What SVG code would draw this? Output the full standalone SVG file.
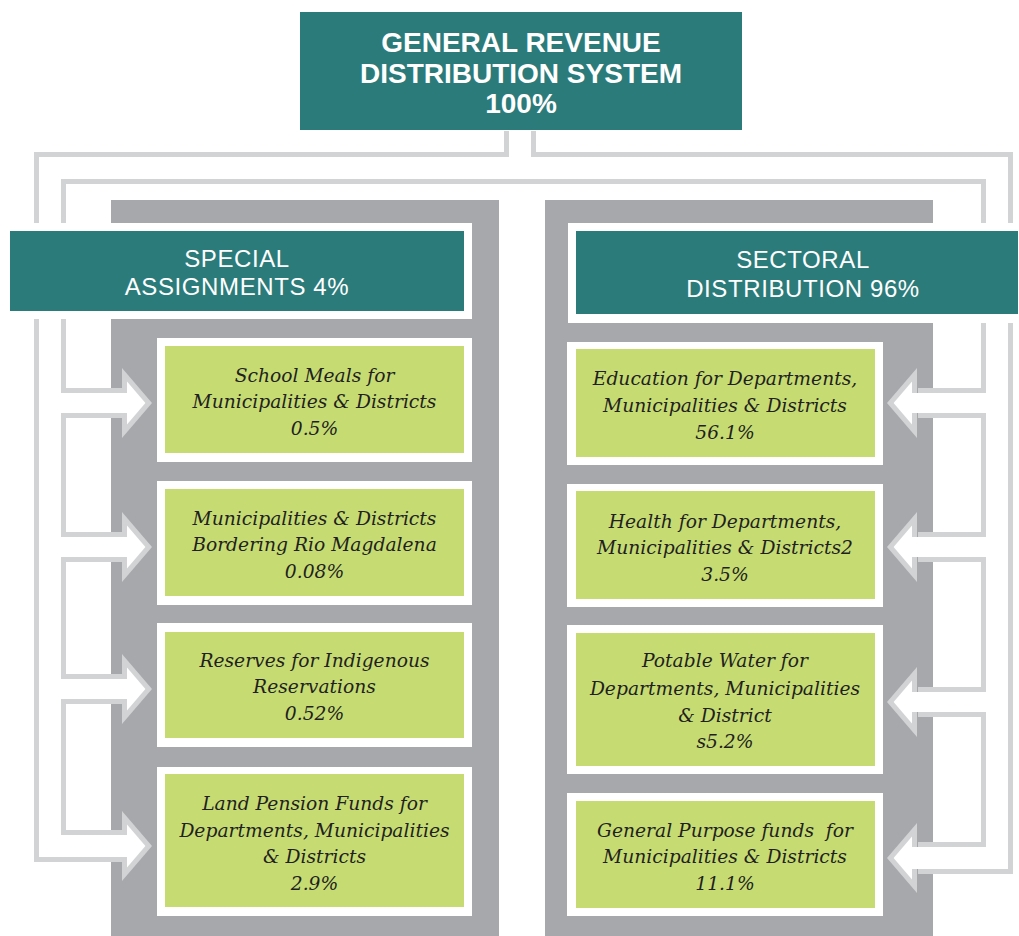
<svg xmlns="http://www.w3.org/2000/svg" xmlns:xlink="http://www.w3.org/1999/xlink" width="1019" height="936" viewBox="0 0 1019 936">
<style>
.panel{fill:#a7a8ac}
.teal{fill:#2b7b7a}
.wbox{fill:#ffffff}
.green{fill:#c6dc73}
.pg{fill:none;stroke:#d2d3d5;stroke-width:32;stroke-linejoin:miter}
.pw{fill:none;stroke:#ffffff;stroke-width:22;stroke-linejoin:miter}
.sg{fill:none;stroke:#d2d3d5;stroke-width:30}
.sw{fill:none;stroke:#ffffff;stroke-width:20}
.hg{fill:#d2d3d5}
.hw{fill:#ffffff}
.t1{font-family:"Liberation Sans",Arial,sans-serif;font-weight:bold;font-size:28px;fill:#ffffff;text-anchor:middle}
.t2{font-family:"Liberation Sans",Arial,sans-serif;font-size:24px;letter-spacing:0.6px;fill:#ffffff;text-anchor:middle}
.t3{font-family:"DejaVu Serif",serif;font-style:italic;font-size:18.7px;fill:#231f20;text-anchor:middle}
</style>
<defs>
<polygon id="lhg" points="122,-35 152,0 122,35"/>
<polygon id="lhw" points="127,-21.5 145.4,0 127,21.5"/>
<polygon id="rhg" points="917,-35 887,0 917,35"/>
<polygon id="rhw" points="912,-21.5 893.6,0 912,21.5"/>
</defs>
<rect x="0" y="0" width="1019" height="936" fill="#ffffff"/>
<g id="panels">
<rect class="panel" x="111" y="200" width="388" height="736"/>
<rect class="panel" x="545" y="200" width="388" height="736"/>
</g>
<g id="connectors">
<path class="pg" d="M124,846 H50 V168 H997 V858 H918"/>
<path class="pg" d="M520,131 V168"/>
<path class="sg" d="M50,403 H124 M50,547 H124 M50,689 H124 M997,403 H918 M997,547 H918 M997,702 H918"/>
<use xlink:href="#lhg" class="hg" transform="translate(0,403)"/>
<use xlink:href="#lhg" class="hg" transform="translate(0,547)"/>
<use xlink:href="#lhg" class="hg" transform="translate(0,689)"/>
<use xlink:href="#lhg" class="hg" transform="translate(0,846)"/>
<use xlink:href="#rhg" class="hg" transform="translate(0,403)"/>
<use xlink:href="#rhg" class="hg" transform="translate(0,547)"/>
<use xlink:href="#rhg" class="hg" transform="translate(0,702)"/>
<use xlink:href="#rhg" class="hg" transform="translate(0,858)"/>
<path class="pw" d="M130,846 H50 V168 H997 V858 H912"/>
<path class="pw" d="M520,131 V170"/>
<path class="sw" d="M50,403 H130 M50,547 H130 M50,689 H130 M997,403 H912 M997,547 H912 M997,702 H912"/>
<use xlink:href="#lhw" class="hw" transform="translate(0,403)"/>
<use xlink:href="#lhw" class="hw" transform="translate(0,547)"/>
<use xlink:href="#lhw" class="hw" transform="translate(0,689)"/>
<use xlink:href="#lhw" class="hw" transform="translate(0,846)"/>
<use xlink:href="#rhw" class="hw" transform="translate(0,403)"/>
<use xlink:href="#rhw" class="hw" transform="translate(0,547)"/>
<use xlink:href="#rhw" class="hw" transform="translate(0,702)"/>
<use xlink:href="#rhw" class="hw" transform="translate(0,858)"/>
</g>
<g id="general">
<rect class="teal" x="300" y="12" width="442" height="118"/>
<text class="t1" x="521" y="52">GENERAL REVENUE</text>
<text class="t1" x="521" y="83">DISTRIBUTION SYSTEM</text>
<text class="t1" x="521" y="113">100%</text>
</g>
<g id="special">
<rect class="wbox" x="2" y="223" width="470" height="96"/>
<rect class="teal" x="10" y="231" width="454" height="80"/>
<text class="t2" x="237" y="267">SPECIAL</text>
<text class="t2" x="237" y="295">ASSIGNMENTS 4%</text>
</g>
<g id="sectoral">
<rect class="wbox" x="568" y="223" width="451" height="100"/>
<rect class="teal" x="576" y="231" width="442" height="83"/>
<text class="t2" x="803" y="268">SECTORAL</text>
<text class="t2" x="803" y="297">DISTRIBUTION 96%</text>
</g>
<g id="school-meals">
<rect class="wbox" x="157" y="338" width="315" height="124"/>
<rect class="green" x="165" y="346" width="299" height="107"/>
<text class="t3" x="314.5" y="382">School Meals for</text>
<text class="t3" x="314.5" y="408">Municipalities &amp; Districts</text>
<text class="t3" x="314.5" y="435">0.5%</text>
</g>
<g id="rio-magdalena">
<rect class="wbox" x="157" y="481" width="315" height="124"/>
<rect class="green" x="165" y="489" width="299" height="107"/>
<text class="t3" x="314.5" y="525">Municipalities &amp; Districts</text>
<text class="t3" x="314.5" y="551">Bordering Rio Magdalena</text>
<text class="t3" x="314.5" y="578">0.08%</text>
</g>
<g id="indigenous">
<rect class="wbox" x="157" y="623" width="315" height="124"/>
<rect class="green" x="165" y="632" width="299" height="106"/>
<text class="t3" x="314.5" y="667">Reserves for Indigenous</text>
<text class="t3" x="314.5" y="693">Reservations</text>
<text class="t3" x="314.5" y="720">0.52%</text>
</g>
<g id="land-pension">
<rect class="wbox" x="157" y="767" width="315" height="149"/>
<rect class="green" x="165" y="774" width="299" height="133"/>
<text class="t3" x="314.5" y="810">Land Pension Funds for</text>
<text class="t3" x="314.5" y="837">Departments, Municipalities</text>
<text class="t3" x="314.5" y="863">&amp; Districts</text>
<text class="t3" x="314.5" y="890">2.9%</text>
</g>
<g id="education">
<rect class="wbox" x="567" y="342" width="316" height="123"/>
<rect class="green" x="576" y="349" width="299" height="108"/>
<text class="t3" x="725" y="385">Education for Departments,</text>
<text class="t3" x="725" y="412">Municipalities &amp; Districts</text>
<text class="t3" x="725" y="439">56.1%</text>
</g>
<g id="health">
<rect class="wbox" x="567" y="484" width="316" height="123"/>
<rect class="green" x="576" y="491" width="299" height="108"/>
<text class="t3" x="725" y="528">Health for Departments,</text>
<text class="t3" x="725" y="554">Municipalities &amp; Districts2</text>
<text class="t3" x="725" y="581">3.5%</text>
</g>
<g id="potable-water">
<rect class="wbox" x="567" y="625" width="316" height="149"/>
<rect class="green" x="576" y="633" width="299" height="133"/>
<text class="t3" x="725" y="667">Potable Water for</text>
<text class="t3" x="725" y="695">Departments, Municipalities</text>
<text class="t3" x="725" y="722">&amp; District</text>
<text class="t3" x="725" y="748">s5.2%</text>
</g>
<g id="general-purpose">
<rect class="wbox" x="567" y="793" width="316" height="123"/>
<rect class="green" x="576" y="801" width="299" height="107"/>
<text class="t3" x="725" y="837" xml:space="preserve">General Purpose funds  for</text>
<text class="t3" x="725" y="863">Municipalities &amp; Districts</text>
<text class="t3" x="725" y="890">11.1%</text>
</g>
</svg>
